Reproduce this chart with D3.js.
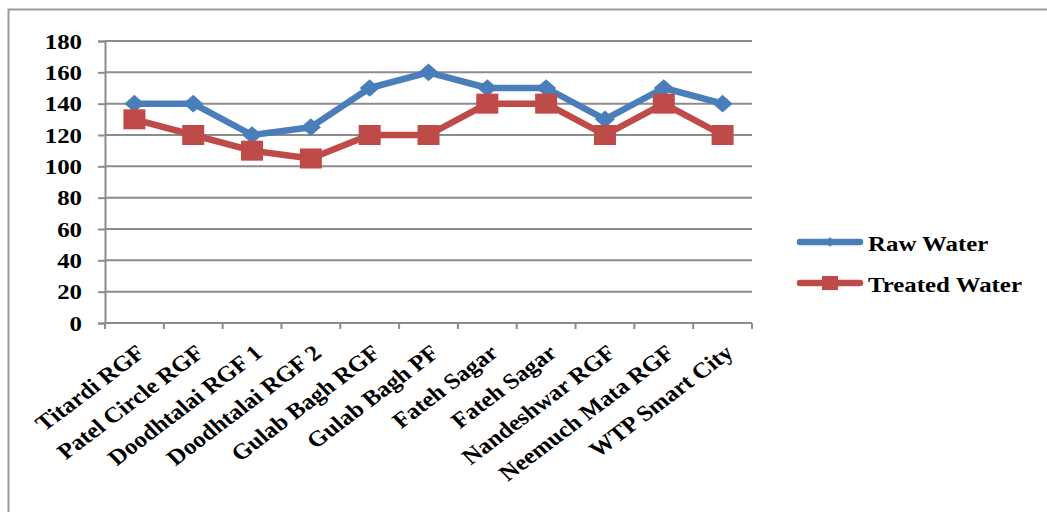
<!DOCTYPE html>
<html>
<head>
<meta charset="utf-8">
<script src="https://cdn.jsdelivr.net/npm/d3@7/dist/d3.min.js"></script>
<style>
  html, body { margin: 0; padding: 0; background: #fff; }
  svg { display: block; }
  text { font-family: "Liberation Serif", "Times New Roman", serif; font-weight: bold; fill: #000; }
</style>
</head>
<body>
<svg id="chart" width="1047" height="512"></svg>
<script>
// Sampling sites
const categories = [
  "Titardi RGF", "Patel Circle RGF", "Doodhtalai RGF 1", "Doodhtalai RGF 2",
  "Gulab Bagh RGF", "Gulab Bagh PF", "Fateh Sagar", "Fateh Sagar ",
  "Nandeshwar RGF", "Neemuch Mata RGF", "WTP Smart City"
];
const categoryLabels = [
  "Titardi RGF", "Patel Circle RGF", "Doodhtalai RGF 1", "Doodhtalai RGF 2",
  "Gulab Bagh RGF", "Gulab Bagh PF", "Fateh Sagar", "Fateh Sagar",
  "Nandeshwar RGF", "Neemuch Mata RGF", "WTP Smart City"
];
const rawWater     = [140, 140, 120, 125, 150, 160, 150, 150, 130, 150, 140];
const treatedWater = [130, 120, 110, 105, 120, 120, 140, 140, 120, 140, 120];
const yTicks = [0, 20, 40, 60, 80, 100, 120, 140, 160, 180];
const seriesNames = ["Raw Water", "Treated Water"];
const seriesColors = ["#4a7ebb", "#be4b48"];

// the whole figure is drawn slightly wide, so text and markers get a horizontal stretch
const sx = 1.13;
const fontSize = 22;

const svg = d3.select("#chart");

// outer frame (runs off the page on the right and bottom)
svg.append("rect")
  .attr("x", 8.5).attr("y", 9.5)
  .attr("width", 1100).attr("height", 600)
  .attr("fill", "none").attr("stroke", "#999").attr("stroke-width", 2);

const plot = { left: 105, right: 752, top: 41, bottom: 323 };

const x = d3.scaleBand().domain(categories).range([plot.left, plot.right]);
const y = d3.scaleLinear().domain([0, 180]).range([plot.bottom, plot.top]);
const cx = c => x(c) + x.bandwidth() / 2;

const gridColor = "#8c8c8c";

// horizontal gridlines
svg.append("g")
  .selectAll("line")
  .data(yTicks.filter(d => d > 0))
  .join("line")
  .attr("x1", plot.left).attr("x2", plot.right)
  .attr("y1", d => y(d)).attr("y2", d => y(d))
  .attr("stroke", gridColor).attr("stroke-width", 2);

// y axis line and ticks
const yAxis = svg.append("g")
  .attr("transform", `translate(${plot.left},0)`)
  .call(d3.axisLeft(y).tickValues(yTicks).tickSize(7).tickFormat(""));
yAxis.select(".domain").attr("stroke", gridColor).attr("stroke-width", 2);
yAxis.selectAll(".tick line").attr("stroke", gridColor).attr("stroke-width", 2);

// y tick labels
svg.append("g")
  .selectAll("text")
  .data(yTicks)
  .join("text")
  .attr("transform", d => `translate(82,${y(d)}) scale(${sx},1)`)
  .attr("dy", "0.35em")
  .attr("text-anchor", "end")
  .attr("font-size", fontSize)
  .text(d => d);

// x axis with ticks on band boundaries
const xAxis = svg.append("g")
  .attr("transform", `translate(0,${plot.bottom})`);
xAxis.append("line")
  .attr("x1", plot.left).attr("x2", plot.right)
  .attr("y1", 0).attr("y2", 0)
  .attr("stroke", gridColor).attr("stroke-width", 2);
const boundaries = categories.map(c => x(c)).concat([plot.right]);
xAxis.selectAll("line.tick")
  .data(boundaries)
  .join("line")
  .attr("class", "tick")
  .attr("x1", d => d).attr("x2", d => d)
  .attr("y1", 0).attr("y2", 6)
  .attr("stroke", gridColor).attr("stroke-width", 2);

xAxis.selectAll("text")
  .data(categories)
  .join("text")
  .attr("transform", d => `translate(${cx(d) + 12},32) scale(${sx},1) rotate(-40.5)`)
  .attr("text-anchor", "end")
  .attr("font-size", fontSize)
  .text((d, i) => categoryLabels[i]);

// series lines and markers
const line = d3.line()
  .x((d, i) => cx(categories[i]))
  .y(d => y(d));

const series = [rawWater, treatedWater];
series.forEach((vals, s) => {
  svg.append("path")
    .datum(vals)
    .attr("d", line)
    .attr("fill", "none")
    .attr("stroke", seriesColors[s])
    .attr("stroke-width", 6.5)
    .attr("stroke-linejoin", "round");
});

const diamond = d3.symbol().type(d3.symbolDiamond2).size(200);
svg.append("g")
  .selectAll("path")
  .data(rawWater)
  .join("path")
  .attr("transform", (d, i) => `translate(${cx(categories[i])},${y(d)}) scale(${sx},1)`)
  .attr("d", diamond)
  .attr("fill", seriesColors[0]);

const sqW = 22, sqH = 20;
svg.append("g")
  .selectAll("rect")
  .data(treatedWater)
  .join("rect")
  .attr("x", (d, i) => cx(categories[i]) - sqW / 2)
  .attr("y", d => y(d) - sqH / 2)
  .attr("width", sqW).attr("height", sqH)
  .attr("fill", seriesColors[1]);

// legend
const legend = svg.append("g");
const legendY = [242, 283];
seriesNames.forEach((name, i) => {
  const g = legend.append("g").attr("transform", `translate(0,${legendY[i]})`);
  g.append("line")
    .attr("x1", 800).attr("x2", 860).attr("y1", 0).attr("y2", 0)
    .attr("stroke", seriesColors[i]).attr("stroke-width", 6.5)
    .attr("stroke-linecap", "round");
  if (i === 0) {
    g.append("path")
      .attr("transform", `translate(830,0) scale(${sx},1)`)
      .attr("d", d3.symbol().type(d3.symbolDiamond2).size(60))
      .attr("fill", seriesColors[i]);
  } else {
    g.append("rect")
      .attr("x", 822).attr("y", -7).attr("width", 16).attr("height", 14)
      .attr("fill", seriesColors[i]);
  }
  g.append("text")
    .attr("transform", `translate(868,9) scale(${sx},1)`)
    .attr("font-size", fontSize)
    .text(name);
});
</script>
</body>
</html>
